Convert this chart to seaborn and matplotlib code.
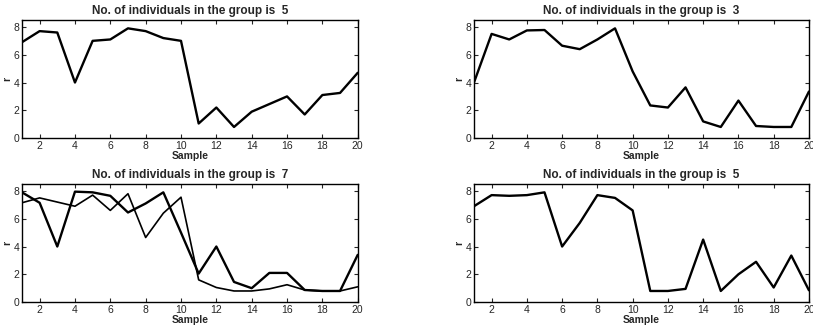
import numpy as np
import pandas as pd
import matplotlib
matplotlib.use("Agg")
import matplotlib.pyplot as plt
import seaborn as sns

sample = list(range(1, 21))

# panel values
r_top_left = [6.9, 7.7, 7.6, 4.0, 7.0, 7.1, 7.9, 7.7, 7.2, 7.0,
              1.05, 2.2, 0.8, 1.9, 2.45, 3.0, 1.7, 3.1, 3.25, 4.7]
r_top_right = [4.0, 7.5, 7.1, 7.75, 7.78, 6.65, 6.4, 7.1, 7.9, 4.8,
               2.35, 2.2, 3.65, 1.2, 0.8, 2.7, 0.87, 0.8, 0.8, 3.35]
r_bottom_left_a = [7.9, 7.15, 4.0, 7.95, 7.9, 7.65, 6.45, 7.1, 7.9, 5.0,
                   2.05, 4.0, 1.45, 1.0, 2.1, 2.1, 0.87, 0.8, 0.8, 3.4]
r_bottom_left_b = [7.15, 7.5, 7.2, 6.9, 7.7, 6.6, 7.8, 4.65, 6.4, 7.55,
                   1.6, 1.05, 0.8, 0.8, 0.95, 1.25, 0.87, 0.8, 0.8, 1.1]
r_bottom_right = [6.9, 7.7, 7.65, 7.7, 7.9, 4.0, 5.7, 7.7, 7.5, 6.6,
                  0.8, 0.8, 0.95, 4.5, 0.8, 2.0, 2.9, 1.05, 3.35, 0.85]

titles = ["No. of individuals in the group is  5",
          "No. of individuals in the group is  3",
          "No. of individuals in the group is  7",
          "No. of individuals in the group is  5"]

sns.set_style("ticks")
plt.rcParams['font.family'] = ['Liberation Sans', 'DejaVu Sans']

fig = plt.figure(figsize=(8.13, 3.28), dpi=100)
positions = [[0.027, 0.579, 0.413, 0.360],
             [0.583, 0.579, 0.412, 0.360],
             [0.027, 0.079, 0.413, 0.360],
             [0.583, 0.079, 0.412, 0.360]]
series = [[(r_top_left, 1.7)],
          [(r_top_right, 1.7)],
          [(r_bottom_left_b, 1.2), (r_bottom_left_a, 1.7)],
          [(r_bottom_right, 1.7)]]

for pos, lines, title in zip(positions, series, titles):
    ax = fig.add_axes(pos)
    for vals, lw in lines:
        df = pd.DataFrame({'Sample': sample, 'r': vals})
        sns.lineplot(data=df, x='Sample', y='r', ax=ax, color='black', linewidth=lw)
    ax.set_xlim(1, 20)
    ax.set_ylim(0, 8.5)
    ax.set_xticks(range(2, 21, 2))
    ax.set_yticks(range(0, 9, 2))
    ax.tick_params(direction='in', top=True, right=True, length=3, width=0.8,
                   labelsize=7.5, pad=2)
    for sp in ax.spines.values():
        sp.set_linewidth(1.0)
        sp.set_color('black')
    ax.set_title(title, fontsize=8.5, fontweight='bold', pad=4)
    ax.set_xlabel('Sample', fontsize=7.5, fontweight='bold', labelpad=0)
    ax.set_ylabel('r', fontsize=7.5, fontweight='bold', labelpad=1)

fig.savefig("out.png", dpi=100)
